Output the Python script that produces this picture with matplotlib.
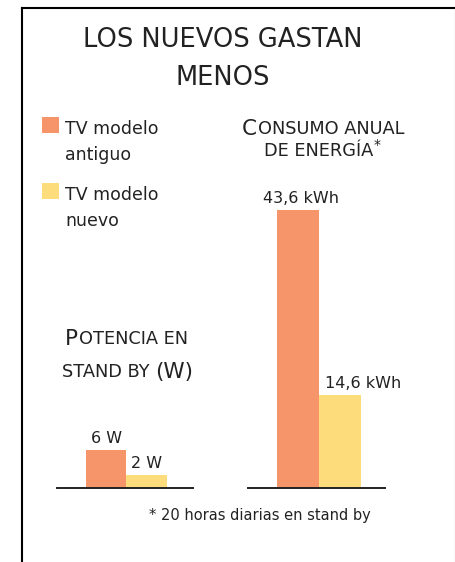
import matplotlib
matplotlib.use("Agg")
import matplotlib.pyplot as plt
from matplotlib.lines import Line2D
from matplotlib.patches import Rectangle

# datos
modelos = ["TV modelo antiguo", "TV modelo nuevo"]
potencia_w = [6, 2]
consumo_kwh = [43.6, 14.6]
etiquetas_potencia = ["6 W", "2 W"]
etiquetas_consumo = ["43,6 kWh", "14,6 kWh"]
colores = ["#F6956A", "#FDDC7B"]

TXT = "#222222"
plt.rcParams['font.family'] = ['DejaVu Sans']

W, H = 456, 562
fig = plt.figure(figsize=(W / 100, H / 100), dpi=100)

# capa de fondo en pixeles (y hacia abajo) para textos y marco
ax0 = fig.add_axes([0, 0, 1, 1])
ax0.set_xlim(0, W)
ax0.set_ylim(H, 0)
ax0.set_axis_off()

# marco
ax0.add_artist(Line2D([22, 22], [8, H], color="black", lw=1.5))
ax0.add_artist(Line2D([22, 455], [8, 8], color="black", lw=1.5))
ax0.add_artist(Line2D([455, 455], [8, H], color="#888888", lw=0.8))

# titulo
ax0.text(223, 47, "LOS NUEVOS GASTAN", fontsize=18.5, ha="center", va="baseline", color=TXT)
ax0.text(223, 85, "MENOS", fontsize=18.5, ha="center", va="baseline", color=TXT)

# leyenda
for i, (nombre, col) in enumerate(zip(modelos, colores)):
    y0 = 117 + i * 66
    ax0.add_patch(Rectangle((42, y0), 17, 16, color=col, lw=0))
    l1, l2 = nombre.rsplit(" ", 1)
    ax0.text(65, y0 + 17, l1, fontsize=12.5, va="baseline", color=TXT)
    ax0.text(65, y0 + 43, l2, fontsize=12.5, va="baseline", color=TXT)


def versalitas(x, y, partes, centro=None):
    # partes: (texto, tamano, dx en pt, subida en pt)
    t0, s0 = partes[0][0], partes[0][1]
    prev = ax0.text(x, y, t0, fontsize=s0, va="baseline", ha="left", color=TXT)
    arts = [prev]
    prev_s = s0
    for txt, s, dx, rise in partes[1:]:
        a = ax0.annotate(txt, xy=(1, 0), xycoords=prev, xytext=(dx, (prev_s - s) * 0.21 + rise),
                         textcoords="offset points", fontsize=s, va="bottom", ha="left",
                         color=TXT, annotation_clip=False)
        arts.append(a)
        prev = a
        prev_s = s
    if centro is not None:
        fig.canvas.draw()
        r = fig.canvas.get_renderer()
        x_left = arts[0].get_window_extent(r).x0
        x_right = arts[-1].get_window_extent(r).x1
        arts[0].set_x(x + centro - (x_left + x_right) / 2)
    return arts


versalitas(240, 135, [("C", 15.5), ("ONSUMO ANUAL", 12.8, 0.5, 0)], centro=323)
versalitas(255, 156, [("DE ENERGÍA", 12.8), ("*", 10, 0.5, 5)], centro=322)
versalitas(65, 345, [("P", 15.5), ("OTENCIA EN", 12.8, 0.5, 0)])
versalitas(62, 377, [("STAND BY", 12.8), ("(W)", 15.5, 4, 0)])

# nota
ax0.text(260, 520, "* 20 horas diarias en stand by", fontsize=10.5, ha="center", va="baseline", color=TXT)

# graficos de barras
escala = 6.38  # px por unidad
alto = 50 * escala / H
ax1 = fig.add_axes([57 / W, 1 - 488 / H, 136 / W, alto])
ax2 = fig.add_axes([248 / W, 1 - 488 / H, 137 / W, alto])

ax1.bar(range(2), potencia_w, width=1, align="edge", color=colores, lw=0)
ax1.set_xlim(-29 / 40.5, 107 / 40.5)
ax2.bar(range(2), consumo_kwh, width=1, align="edge", color=colores, lw=0)
ax2.set_xlim(-29 / 42, 108 / 42)

for ax in (ax1, ax2):
    ax.set_ylim(0, 50)
    for s in ["top", "right", "left"]:
        ax.spines[s].set_visible(False)
    ax.spines["bottom"].set_linewidth(1.4)
    ax.spines["bottom"].set_color(TXT)
    ax.set_xticks([])
    ax.set_yticks([])
    ax.patch.set_alpha(0)

for i, (v, lab) in enumerate(zip(potencia_w, etiquetas_potencia)):
    ax1.annotate(lab, xy=(i + 0.5, v), xytext=(0, 5), textcoords="offset points",
                 ha="center", va="baseline", fontsize=11.5, color=TXT)

ax2.annotate(etiquetas_consumo[0], xy=(0.5, consumo_kwh[0]), xytext=(2, 5), textcoords="offset points",
             ha="center", va="baseline", fontsize=11.5, color=TXT)
ax2.annotate(etiquetas_consumo[1], xy=(1, consumo_kwh[1]), xytext=(4, 5), textcoords="offset points",
             ha="left", va="baseline", fontsize=11.5, color=TXT)

fig.savefig("out.png", dpi=100)
